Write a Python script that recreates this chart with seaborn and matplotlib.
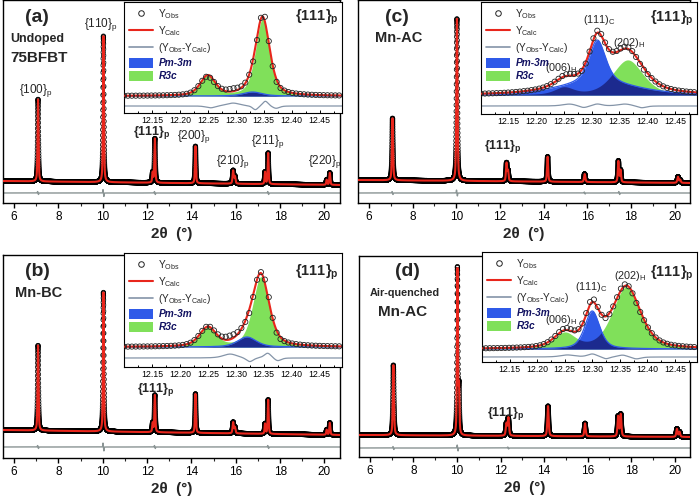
import numpy as np
import matplotlib
matplotlib.use("Agg")
import matplotlib.pyplot as plt
from matplotlib.lines import Line2D
from matplotlib.patches import Patch
from matplotlib.ticker import MultipleLocator, FormatStrFormatter
import seaborn as sns

# ------------------------------------------------------------------
# Data (2theta in degrees, intensity in a.u.)
# ------------------------------------------------------------------
BG_X = [5.5, 20.7]

# panel (a) undoped 75BFBT
A_PEAK_POS = [7.08, 10.03, 12.25, 12.35, 14.18, 15.88, 15.96, 17.32, 17.46, 20.10, 20.24]
A_PEAK_HGT = [82, 146, 10, 44, 37, 13, 7, 12, 31, 5, 12]
A_PEAK_FWHM = [0.05, 0.05, 0.05, 0.05, 0.05, 0.06, 0.06, 0.05, 0.05, 0.05, 0.05]
A_BACKGROUND = [22, 18]
A_RES_POS = [7.06, 7.10, 10.01, 10.05, 12.33, 12.37, 17.44, 17.48]
A_RES_AMP = [1.5, -1.5, 3.5, -3.5, 1.5, -1.5, 1.5, -1.5]
A_RES_FWHM = [0.02, 0.02, 0.02, 0.02, 0.02, 0.02, 0.02, 0.02]
A_DIFF_LEVEL = 10
A_LABELS = ['{100}', '{110}', '{111}', '{200}', '{210}', '{211}', '{220}']
A_LABEL_X = [7.0, 9.9, 12.2, 14.1, 15.85, 17.45, 20.0]
A_LABEL_Y = [112, 178, 70, 66, 41, 61, 41]

# panel (b) Mn-BC
B_PEAK_POS = [7.08, 10.03, 12.25, 12.35, 14.18, 15.88, 15.96, 17.32, 17.46, 20.10, 20.24]
B_PEAK_HGT = [85, 139, 9, 37, 39, 11, 6, 10, 34, 5, 12]
B_PEAK_FWHM = [0.05, 0.05, 0.05, 0.05, 0.05, 0.06, 0.06, 0.05, 0.05, 0.05, 0.05]
B_BACKGROUND = [28, 23]
B_RES_POS = [7.06, 7.10, 10.01, 10.05, 12.33, 12.37, 17.44, 17.48]
B_RES_AMP = [1.5, -1.5, 4, -4, 1.5, -1.5, 1.5, -1.5]
B_RES_FWHM = [0.02, 0.02, 0.02, 0.02, 0.02, 0.02, 0.02, 0.02]
B_DIFF_LEVEL = 11

# panel (c) Mn-AC
C_PEAK_POS = [7.08, 10.03, 12.30, 12.37, 14.18, 15.88, 17.42, 17.52, 20.15, 20.25]
C_PEAK_HGT = [62, 162, 18, 10, 25, 8, 21, 12, 6, 3]
C_PEAK_FWHM = [0.06, 0.06, 0.06, 0.06, 0.06, 0.07, 0.06, 0.06, 0.07, 0.07]
C_BACKGROUND = [23, 20]
C_RES_POS = [7.06, 7.10, 10.01, 10.05, 15.86, 15.90, 17.44, 17.48]
C_RES_AMP = [1.5, -1.5, 3, -3, 1.0, -1.0, 1.5, -1.5]
C_RES_FWHM = [0.02, 0.02, 0.02, 0.02, 0.02, 0.02, 0.02, 0.02]
C_DIFF_LEVEL = 10

# panel (d) air-quenched Mn-AC
D_PEAK_POS = [7.08, 10.02, 10.09, 12.27, 12.36, 14.18, 15.88, 17.40, 17.52, 20.10, 20.22]
D_PEAK_HGT = [70, 165, 45, 12, 18, 30, 13, 20, 22, 8, 5]
D_PEAK_FWHM = [0.06, 0.05, 0.05, 0.07, 0.07, 0.07, 0.07, 0.07, 0.07, 0.07, 0.07]
D_BACKGROUND = [22, 20]
D_RES_POS = [7.06, 7.10, 10.01, 10.05, 12.33, 12.37]
D_RES_AMP = [1.5, -1.5, 3, -3, 1.0, -1.0]
D_RES_FWHM = [0.02, 0.02, 0.02, 0.02, 0.02, 0.02]
D_DIFF_LEVEL = 9

# insets: {111}p region, phases R3c (green) and Pm-3m (blue)
IA_R3C_POS = [12.25, 12.348]
IA_R3C_HGT = [20, 77]
IA_R3C_FWHM = [0.032, 0.030]
IA_PM_POS = [12.33]
IA_PM_HGT = [4]
IA_PM_FWHM = [0.04]
IA_BASE = 17
IA_DIFF = 7
IA_RES_POS = [12.255, 12.295, 12.335, 12.353, 12.372]
IA_RES_AMP = [-2, 3, -4, 5, -2.5]
IA_RES_FWHM = [0.02, 0.03, 0.012, 0.012, 0.015]

IB_R3C_POS = [12.25, 12.345]
IB_R3C_HGT = [19, 70]
IB_R3C_FWHM = [0.035, 0.035]
IB_PM_POS = [12.32]
IB_PM_HGT = [10]
IB_PM_FWHM = [0.04]
IB_BASE = 20
IB_DIFF = 9
IB_RES_POS = [12.29, 12.325, 12.357, 12.375]
IB_RES_AMP = [4, -4, 5, -3]
IB_RES_FWHM = [0.03, 0.015, 0.015, 0.015]

IC_R3C_POS = [12.25, 12.365]
IC_R3C_HGT = [7, 35]
IC_R3C_FWHM = [0.04, 0.065]
IC_PM_POS = [12.31, 12.31]
IC_PM_HGT = [42, 13]
IC_PM_FWHM = [0.035, 0.16]
IC_BASE = 19
IC_DIFF = 8
IC_RES_POS = [12.26, 12.285, 12.31, 12.36, 12.39]
IC_RES_AMP = [2, -2, 2, 2, -2]
IC_RES_FWHM = [0.03, 0.02, 0.02, 0.03, 0.02]

ID_R3C_POS = [12.25, 12.362]
ID_R3C_HGT = [15, 62]
ID_R3C_FWHM = [0.045, 0.06]
ID_PM_POS = [12.30]
ID_PM_HGT = [38]
ID_PM_FWHM = [0.032]
ID_BASE = 13
ID_DIFF = 5
ID_RES_POS = [12.255, 12.30, 12.325, 12.355, 12.38]
ID_RES_AMP = [2, 3, -2, 2, -2]
ID_RES_FWHM = [0.03, 0.02, 0.015, 0.02, 0.02]

INSET_TICKS = [12.15, 12.20, 12.25, 12.30, 12.35, 12.40, 12.45]
MAIN_TICKS = [6, 8, 10, 12, 14, 16, 18, 20]

# ------------------------------------------------------------------
RED = '#e8261c'
GRAY_MAIN = '#8a9494'
GRAY_IN = '#8494a8'
GREEN = '#80e05a'
BLUE = '#2f5ae8'
NAVY = '#1c2a8e'

sns.set_theme(style="ticks")
plt.rcParams['font.family'] = ['Liberation Sans', 'DejaVu Sans']
plt.rcParams['mathtext.default'] = 'regular'
plt.rcParams['axes.linewidth'] = 1.0


def pv(x, pos, hgt, fwhm, eta=0.5):
    x = np.asarray(x, float)[:, None]
    p = np.asarray(pos, float)[None, :]
    h = np.asarray(hgt, float)[None, :]
    w = np.asarray(fwhm, float)[None, :]
    u = 4.0 * ((x - p) / w) ** 2
    return (h * (eta / (1.0 + u) + (1 - eta) * np.exp(-np.log(2) * u))).sum(axis=1)


fig = plt.figure(figsize=(7.0, 5.01), dpi=100)
W, H = 700.0, 501.0


def rect(l, t, r, b):
    return [l / W, 1 - b / H, (r - l) / W, (b - t) / H]


def draw_main(ax, pos, hgt, fwhm, bg, rpos, ramp, rw, diff, ymax):
    x = np.arange(5.5, 20.7, 0.002)
    back = np.interp(x, BG_X, bg)
    calc = back + pv(x, pos, hgt, fwhm)
    res = pv(x, rpos, ramp, rw)
    obs = calc + res
    sns.lineplot(x=x, y=diff + res, ax=ax, color=GRAY_MAIN, lw=1.0,
                 estimator=None, sort=False, zorder=2)
    sns.scatterplot(x=x, y=obs, ax=ax, s=10, marker='o', linewidth=0.55,
                    legend=False, zorder=3)
    coll = ax.collections[-1]
    coll.set_facecolor('none')
    coll.set_edgecolor('black')
    sns.lineplot(x=x, y=calc, ax=ax, color=RED, lw=1.5,
                 estimator=None, sort=False, zorder=4)
    ax.set_xlim(5.5, 20.7)
    ax.set_ylim(0, ymax)
    ax.set_yticks([])
    ax.set_xticks(MAIN_TICKS)
    ax.set_xticklabels([str(t) for t in MAIN_TICKS])
    ax.xaxis.set_minor_locator(MultipleLocator(1))
    ax.tick_params(axis='x', which='major', direction='out', length=3.5,
                   width=1, labelsize=8.5, pad=2, colors='black')
    ax.tick_params(axis='x', which='minor', direction='out', length=2, width=0.8)
    ax.set_xlabel('2θ  (°)', fontsize=11, fontweight='bold', labelpad=3)
    ax.set_ylabel('')
    for s in ax.spines.values():
        s.set_visible(True)
        s.set_color('black')
        s.set_linewidth(1.0)


def draw_inset(ax, gpos, ghgt, gw, bpos, bhgt, bw, base, diff, rpos, ramp, rw, ymax, label_y):
    xf = np.linspace(12.10, 12.49, 700)
    green = pv(xf, gpos, ghgt, gw)
    blue = pv(xf, bpos, bhgt, bw)
    res_f = pv(xf, rpos, ramp, rw)
    ax.fill_between(xf, base, base + green, color=GREEN, lw=0, zorder=1)
    ax.fill_between(xf, base, base + blue, color=BLUE, lw=0, zorder=1.5)
    ax.fill_between(xf, base, base + np.minimum(green, blue), color=NAVY, lw=0, zorder=1.7)
    sns.lineplot(x=xf, y=base + blue, ax=ax, color=BLUE, lw=0.9,
                 estimator=None, sort=False, zorder=1.8)
    sns.lineplot(x=xf, y=diff + res_f, ax=ax, color=GRAY_IN, lw=0.9,
                 estimator=None, sort=False, zorder=2)
    xo = np.arange(12.10, 12.49, 0.007)
    obs = base + pv(xo, gpos, ghgt, gw) + pv(xo, bpos, bhgt, bw) + pv(xo, rpos, ramp, rw)
    sns.lineplot(x=xf, y=base + green + blue, ax=ax, color=RED, lw=1.5,
                 estimator=None, sort=False, zorder=3)
    sns.scatterplot(x=xo, y=obs, ax=ax, s=14, marker='o', linewidth=0.6,
                    legend=False, zorder=4)
    coll = ax.collections[-1]
    coll.set_facecolor('none')
    coll.set_edgecolor('#222222')
    ax.set_xlim(12.10, 12.49)
    ax.set_ylim(0, ymax)
    ax.set_yticks([])
    ax.set_xticks(INSET_TICKS)
    ax.xaxis.set_major_formatter(FormatStrFormatter('%.2f'))
    ax.xaxis.set_minor_locator(MultipleLocator(0.025))
    ax.tick_params(axis='x', which='both', direction='in', length=2.5, width=0.7,
                   labelsize=6.3, pad=2, colors='black')
    ax.tick_params(axis='x', which='minor', length=1.5)
    ax.set_xlabel('')
    ax.set_ylabel('')
    ax.set_facecolor('white')
    for s in ax.spines.values():
        s.set_visible(True)
        s.set_color('black')
        s.set_linewidth(0.8)
    handles = [Line2D([], [], marker='o', ls='', mfc='none', mec='#222222', ms=4, mew=0.7),
               Line2D([], [], color=RED, lw=1.5),
               Line2D([], [], color=GRAY_IN, lw=1.2),
               Patch(facecolor=BLUE, edgecolor='none'),
               Patch(facecolor=GREEN, edgecolor='none')]
    labels = [r'Y$_{Obs}$', r'Y$_{Calc}$', r'(Y$_{Obs}$-Y$_{Calc}$)', 'Pm-3m', 'R3c']
    leg = ax.legend(handles, labels, loc='upper left', bbox_to_anchor=(0.0, 1.0),
                    frameon=False, fontsize=7.3, handlelength=2.4, handleheight=1.1,
                    handletextpad=0.5, labelspacing=0.3, borderaxespad=0.3,
                    borderpad=0.2)
    for t in leg.get_texts()[3:]:
        t.set_fontstyle('italic')
        t.set_fontweight('bold')
        t.set_color('#101060')
    ax.text(0.985, label_y, r'{111}$_p$', transform=ax.transAxes, ha='right', va='center',
            fontsize=10.5, fontweight='bold')


# ---------------- main panels ----------------
ax_a = fig.add_axes(rect(3, 0, 340, 203))
draw_main(ax_a, A_PEAK_POS, A_PEAK_HGT, A_PEAK_FWHM, A_BACKGROUND,
          A_RES_POS, A_RES_AMP, A_RES_FWHM, A_DIFF_LEVEL, 203)
for lab, lx, ly in zip(A_LABELS, A_LABEL_X, A_LABEL_Y):
    ax_a.text(lx, ly, lab + r'$_p$', ha='center', va='center', fontsize=8.5 if lab != '{111}' else 9,
              fontweight='bold' if lab == '{111}' else 'normal', zorder=6)

ax_b = fig.add_axes(rect(3, 255, 340, 458))
draw_main(ax_b, B_PEAK_POS, B_PEAK_HGT, B_PEAK_FWHM, B_BACKGROUND,
          B_RES_POS, B_RES_AMP, B_RES_FWHM, B_DIFF_LEVEL, 203)
ax_b.text(12.4, 68, r'{111}$_p$', ha='center', va='center', fontsize=9, fontweight='bold')

ax_c = fig.add_axes(rect(358, 0, 690, 203))
draw_main(ax_c, C_PEAK_POS, C_PEAK_HGT, C_PEAK_FWHM, C_BACKGROUND,
          C_RES_POS, C_RES_AMP, C_RES_FWHM, C_DIFF_LEVEL, 203)
ax_c.text(12.15, 56, r'{111}$_p$', ha='center', va='center', fontsize=9, fontweight='bold')

ax_d = fig.add_axes(rect(359, 256, 690, 457))
draw_main(ax_d, D_PEAK_POS, D_PEAK_HGT, D_PEAK_FWHM, D_BACKGROUND,
          D_RES_POS, D_RES_AMP, D_RES_FWHM, D_DIFF_LEVEL, 201)
ax_d.text(12.25, 44, r'{111}$_p$', ha='center', va='center', fontsize=9, fontweight='bold')

# ---------------- insets ----------------
in_a = fig.add_axes(rect(124, 2, 342, 113))
in_a.set_zorder(10)
draw_inset(in_a, IA_R3C_POS, IA_R3C_HGT, IA_R3C_FWHM, IA_PM_POS, IA_PM_HGT, IA_PM_FWHM,
           IA_BASE, IA_DIFF, IA_RES_POS, IA_RES_AMP, IA_RES_FWHM, 111, 0.86)

in_b = fig.add_axes(rect(124, 253, 342, 367))
in_b.set_zorder(10)
draw_inset(in_b, IB_R3C_POS, IB_R3C_HGT, IB_R3C_FWHM, IB_PM_POS, IB_PM_HGT, IB_PM_FWHM,
           IB_BASE, IB_DIFF, IB_RES_POS, IB_RES_AMP, IB_RES_FWHM, 114, 0.83)

in_c = fig.add_axes(rect(481, 2, 697, 114))
in_c.set_zorder(10)
draw_inset(in_c, IC_R3C_POS, IC_R3C_HGT, IC_R3C_FWHM, IC_PM_POS, IC_PM_HGT, IC_PM_FWHM,
           IC_BASE, IC_DIFF, IC_RES_POS, IC_RES_AMP, IC_RES_FWHM, 112, 0.85)
in_c.text(12.314, 94, r'(111)$_C$', ha='center', va='center', fontsize=7.8)
in_c.text(12.367, 71, r'(202)$_H$', ha='center', va='center', fontsize=7.8)
in_c.text(12.244, 46, r'(006)$_H$', ha='center', va='center', fontsize=7.8)

in_d = fig.add_axes(rect(482, 252, 697, 362))
in_d.set_zorder(10)
draw_inset(in_d, ID_R3C_POS, ID_R3C_HGT, ID_R3C_FWHM, ID_PM_POS, ID_PM_HGT, ID_PM_FWHM,
           ID_BASE, ID_DIFF, ID_RES_POS, ID_RES_AMP, ID_RES_FWHM, 110, 0.81)
in_d.text(12.369, 86, r'(202)$_H$', ha='center', va='center', fontsize=7.8)
in_d.text(12.298, 75, r'(111)$_C$', ha='center', va='center', fontsize=7.8)
in_d.text(12.244, 42, r'(006)$_H$', ha='center', va='center', fontsize=7.8)

# ---------------- panel texts ----------------
def ftxt(x, y, s, **kw):
    fig.text(x / W, 1 - y / H, s, **kw)

ftxt(37, 18, '(a)', ha='center', va='center', fontsize=14, fontweight='bold')
ftxt(10, 39, 'Undoped', ha='left', va='center', fontsize=9, fontweight='bold')
ftxt(10, 58, '75BFBT', ha='left', va='center', fontsize=11, fontweight='bold')
ftxt(397, 18, '(c)', ha='center', va='center', fontsize=14, fontweight='bold')
ftxt(375, 38, 'Mn-AC', ha='left', va='center', fontsize=10.5, fontweight='bold')
ftxt(37, 271, '(b)', ha='center', va='center', fontsize=14, fontweight='bold')
ftxt(15, 293, 'Mn-BC', ha='left', va='center', fontsize=10.5, fontweight='bold')
ftxt(407, 272, '(d)', ha='center', va='center', fontsize=14, fontweight='bold')
ftxt(370, 293, 'Air-quenched', ha='left', va='center', fontsize=7.8, fontweight='bold')
ftxt(378, 312, 'Mn-AC', ha='left', va='center', fontsize=11, fontweight='bold')

fig.savefig('out.png', dpi=100, facecolor='white')
